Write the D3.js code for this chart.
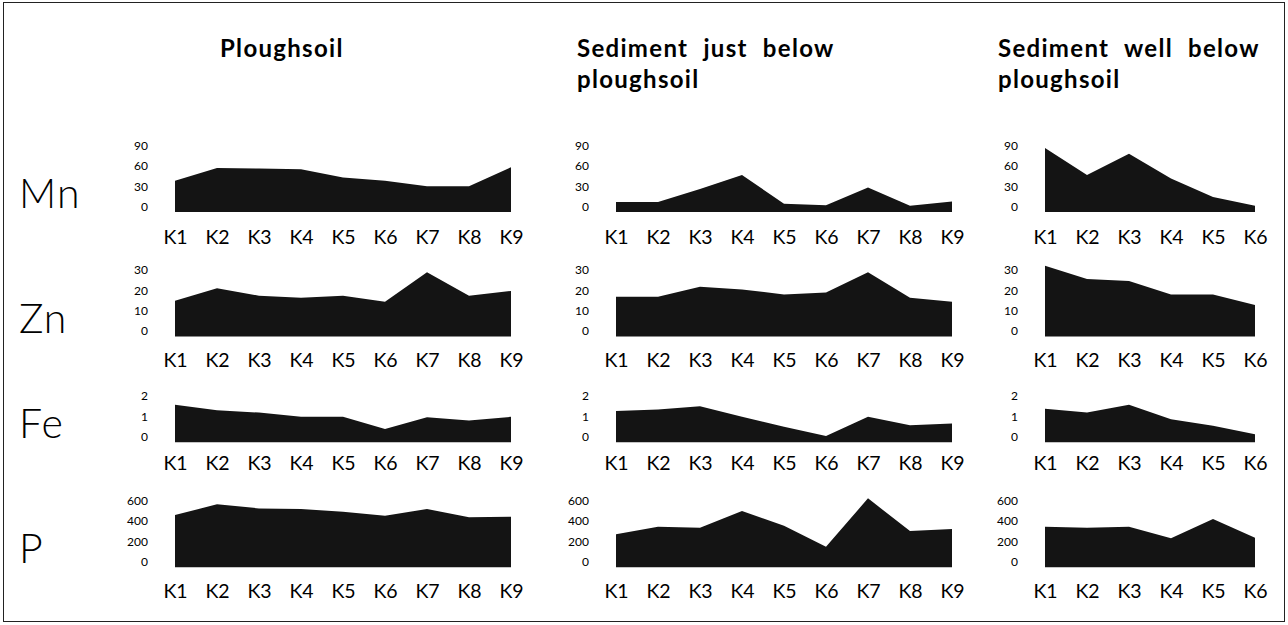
<!DOCTYPE html>
<html>
<head>
<meta charset="utf-8">
<script src="https://cdn.jsdelivr.net/npm/d3@7"></script>
<style>
  body { margin: 0; background: #fff; }
  svg { display: block; }
</style>
</head>
<body>
<div id="chart"></div>
<script>
// sample points along the transect
let sites9 = ["K1", "K2", "K3", "K4", "K5", "K6", "K7", "K8", "K9"];
let sites6 = ["K1", "K2", "K3", "K4", "K5", "K6"];

let columnTitles = [
  ["Ploughsoil"],
  ["Sediment just below", "ploughsoil"],
  ["Sediment well below", "ploughsoil"]
];
let elements = ["Mn", "Zn", "Fe", "P"];

// tick labels for each element row
let mnTicks = [0, 30, 60, 90];
let znTicks = [0, 10, 20, 30];
let feTicks = [0, 1, 2];
let pTicks = [0, 200, 400, 600];

// values
let mnPlough = [38, 57, 56, 55, 43, 38, 30, 30, 58];
let mnJust   = [6.5, 6.5, 26, 46.5, 4, 2, 28, 1, 7.5];
let mnWell   = [86.5, 46.5, 78, 41.5, 14, 1];

let znPlough = [14.9, 21, 17.4, 16.4, 17.4, 14.4, 28.9, 17.4, 19.7];
let znJust   = [16.9, 16.9, 21.8, 20.5, 18, 19, 28.9, 16.4, 14.4];
let znWell   = [32.2, 25.6, 24.6, 18, 18, 12.8];

let fePlough = [1.58, 1.3, 1.19, 0.98, 0.98, 0.38, 0.96, 0.8, 0.98];
let feJust   = [1.27, 1.34, 1.5, 0.98, 0.49, 0.03, 0.98, 0.57, 0.65];
let feWell   = [1.38, 1.19, 1.58, 0.86, 0.54, 0.12];

let pPlough = [460, 565, 525, 518, 492, 453, 518, 437, 443];
let pJust   = [270, 344, 335, 499, 354, 148, 624, 302, 322];
let pWell   = [344, 335, 344, 230, 420, 236];

// rows: element, ticks, series per column
let rows = [
  { name: elements[0], ticks: mnTicks, series: [mnPlough, mnJust, mnWell] },
  { name: elements[1], ticks: znTicks, series: [znPlough, znJust, znWell] },
  { name: elements[2], ticks: feTicks, series: [fePlough, feJust, feWell] },
  { name: elements[3], ticks: pTicks,  series: [pPlough, pJust, pWell] }
];
let columnSites = [sites9, sites9, sites6];

// layout
let w = 1288, h = 625;
let font = "Lato, 'Open Sans', sans-serif";
let colX = [175, 616, 1045];       // x of first site in each column
let siteStep = 42;
let rowZero = [206.5, 331, 436.7, 561.7];   // y of the zero tick in each row
let rowLabelY = [236.5, 360, 462.5, 591];   // y of site labels
let tickPx = 20.3;                  // pixels between y ticks
let belowZero = 5.5 / 20.3;         // area floor sits a bit under zero (in ticks)

let viz = d3.select("#chart")
  .append("svg")
    .attr("width", w)
    .attr("height", h)
;

viz.append("rect")
    .attr("x", 3.5)
    .attr("y", 2.5)
    .attr("width", w - 7)
    .attr("height", h - 6)
    .attr("fill", "none")
    .attr("stroke", "#222")
    .attr("stroke-width", 1)
;

// column titles
let titleX = [220, 577, 998];
columnTitles.forEach(function(lines, i){
  let t = viz.append("text")
      .attr("x", titleX[i])
      .attr("y", 57)
      .attr("font-family", font)
      .attr("font-weight", "bold")
      .attr("font-size", 24)
      .attr("letter-spacing", 1.3)
      .attr("word-spacing", 8)
      .attr("fill", "#000")
  ;
  lines.forEach(function(line, j){
    t.append("tspan")
      .attr("x", titleX[i])
      .attr("dy", j == 0 ? 0 : 31)
      .text(line);
  });
});

rows.forEach(function(row, r){
  // element label on the left
  viz.append("text")
      .attr("x", 19)
      .attr("y", rowZero[r] - 13)
      .attr("dy", "0.36em")
      .attr("font-family", font)
      .attr("font-weight", 300)
      .attr("font-size", 41)
      .attr("letter-spacing", 1)
      .attr("fill", "#000")
      .text(row.name)
  ;

  let step = row.ticks[1] - row.ticks[0];
  let maxTick = row.ticks[row.ticks.length - 1];
  let yScale = d3.scaleLinear()
      .domain([0, maxTick])
      .range([rowZero[r], rowZero[r] - tickPx * (row.ticks.length - 1)]);
  let floorY = yScale(-belowZero * step);

  row.series.forEach(function(values, c){
    let sites = columnSites[c];
    let xScale = d3.scalePoint()
        .domain(sites)
        .range([colX[c], colX[c] + siteStep * (sites.length - 1)]);

    let data = sites.map(function(s, i){
      return { site: s, value: values[i] };
    });

    let areaMaker = d3.area()
        .x(function(d){ return xScale(d.site); })
        .y0(floorY)
        .y1(function(d){ return yScale(d.value); })
    ;

    viz.append("path")
        .datum(data)
        .attr("d", areaMaker)
        .attr("fill", "#141414")
    ;

    // y axis labels
    let yAxis = d3.axisLeft(yScale)
        .tickValues(row.ticks)
        .tickFormat(d3.format("d"))
        .tickSize(0)
        .tickPadding(27);
    let yAxisGroup = viz.append("g")
        .attr("transform", "translate(" + colX[c] + ",0)")
        .call(yAxis);
    yAxisGroup.select(".domain").remove();
    yAxisGroup.selectAll("text")
        .attr("font-family", font)
        .attr("font-size", 12)
        .attr("fill", "#000");

    // site labels
    let xAxis = d3.axisBottom(xScale).tickSize(0).tickPadding(0);
    let xAxisGroup = viz.append("g")
        .attr("transform", "translate(0," + rowLabelY[r] + ")")
        .call(xAxis);
    xAxisGroup.select(".domain").remove();
    xAxisGroup.selectAll("text")
        .attr("dy", "0.36em")
        .attr("font-family", font)
        .attr("font-size", 19.5)
        .attr("fill", "#000");
  });
});
</script>
</body>
</html>
